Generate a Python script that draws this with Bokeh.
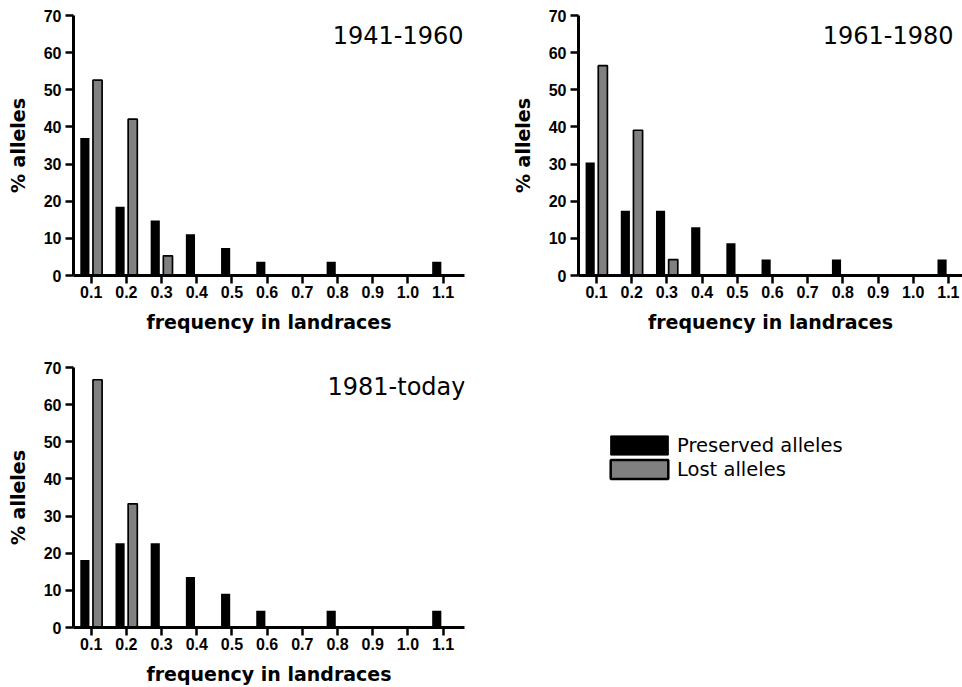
from bokeh.plotting import figure
from bokeh.models import Range1d, FixedTicker, Label, Legend, LegendItem, ColumnDataSource
from bokeh.layouts import gridplot
from bokeh.embed import file_html
from bokeh.resources import INLINE

# ---------------- data ----------------
freq = [0.1, 0.2, 0.3, 0.4, 0.5, 0.6, 0.7, 0.8, 0.9, 1.0, 1.1]
tick_labels = ["0.1", "0.2", "0.3", "0.4", "0.5", "0.6", "0.7", "0.8", "0.9", "1.0", "1.1"]
y_ticks = [0, 10, 20, 30, 40, 50, 60, 70]

periods = ["1941-1960", "1961-1980", "1981-today"]

preserved_1941_1960 = [37.0, 18.5, 14.8, 11.1, 7.4, 3.7, 0, 3.7, 0, 0, 3.7]
lost_1941_1960 = [52.6, 42.1, 5.3, 0, 0, 0, 0, 0, 0, 0, 0]

preserved_1961_1980 = [30.4, 17.4, 17.4, 13.0, 8.7, 4.3, 0, 4.3, 0, 0, 4.3]
lost_1961_1980 = [56.5, 39.1, 4.3, 0, 0, 0, 0, 0, 0, 0, 0]

preserved_1981_today = [18.2, 22.7, 22.7, 13.6, 9.1, 4.5, 0, 4.5, 0, 0, 4.5]
lost_1981_today = [66.7, 33.3, 0, 0, 0, 0, 0, 0, 0, 0, 0]

series_names = ["Preserved alleles", "Lost alleles"]
x_label = "frequency in landraces"
y_label = "% alleles"

# ---------------- style ----------------
PX_PER_UNIT = 351.9
BAR_W = 0.026
DODGE = 0.018
GREY = "#808080"


def make_panel(title, preserved, lost, width, height,
               b_left, b_right, b_top, b_bottom, first_tick_px, title_x):
    frame_w = width - b_left - b_right
    x0 = freq[0] - first_tick_px / PX_PER_UNIT
    x1 = x0 + frame_w / PX_PER_UNIT
    p = figure(width=width, height=height, output_backend="svg",
               toolbar_location=None, tools="",
               x_range=Range1d(x0, x1), y_range=Range1d(y_ticks[0], y_ticks[-1]),
               min_border_left=b_left, min_border_right=b_right,
               min_border_top=b_top, min_border_bottom=b_bottom)
    p.outline_line_color = None
    p.grid.visible = False
    p.background_fill_color = "white"
    p.border_fill_color = "white"

    px = [f - DODGE for f, v in zip(freq, preserved) if v > 0]
    pv = [v for v in preserved if v > 0]
    lx = [f + DODGE for f, v in zip(freq, lost) if v > 0]
    lv = [v for v in lost if v > 0]
    p.vbar(x=px, top=pv, bottom=0, width=BAR_W, fill_color="black", line_color=None)
    p.vbar(x=lx, top=lv, bottom=0, width=BAR_W, fill_color=GREY,
           line_color="black", line_width=1.7)

    for ax in (p.xaxis[0], p.yaxis[0]):
        ax.axis_line_width = 3
        ax.axis_line_color = "black"
        ax.major_tick_line_width = 2.5
        ax.major_tick_line_color = "black"
        ax.major_tick_out = 8
        ax.major_tick_in = 0
        ax.minor_tick_out = 0
        ax.minor_tick_in = 0
        ax.major_label_text_font = "Liberation Sans"
        ax.major_label_text_font_style = "bold"
        ax.major_label_text_font_size = "16px"
        ax.major_label_text_color = "black"
        ax.axis_label_text_font = "DejaVu Sans"
        ax.axis_label_text_font_style = "bold"
        ax.axis_label_text_font_size = "19px"
        ax.axis_label_text_color = "black"

    p.xaxis.ticker = FixedTicker(ticks=freq)
    p.xaxis.major_label_overrides = {f: t for f, t in zip(freq, tick_labels)}
    p.xaxis.major_label_standoff = 2
    p.xaxis.axis_label = x_label
    p.xaxis.axis_label_standoff = 10

    p.yaxis.ticker = FixedTicker(ticks=y_ticks)
    p.yaxis.major_label_standoff = 4
    p.yaxis.axis_label = y_label
    p.yaxis.axis_label_standoff = 12

    p.add_layout(Label(x=title_x, y=241, x_units="screen", y_units="screen",
                       text=title, text_align="right", text_baseline="alphabetic",
                       text_font="DejaVu Sans", text_font_size="24px",
                       text_color="black"))
    return p


p1 = make_panel(periods[0], preserved_1941_1960, lost_1941_1960,
                480, 340, 73, 16, 15, 65, 17.7, 390)
p2 = make_panel(periods[1], preserved_1961_1980, lost_1961_1980,
                482, 340, 98, 0, 15, 65, 18.0, 375)
p3 = make_panel(periods[2], preserved_1981_today, lost_1981_today,
                480, 347, 73, 16, 27, 60, 17.7, 392)

# legend panel (frame aligned with the 1961-1980 panel column and the 1981-today row)
p4 = figure(width=482, height=347, output_backend="svg", toolbar_location=None, tools="",
            x_range=Range1d(0, 1), y_range=Range1d(0, 1),
            x_axis_location=None, y_axis_location=None,
            min_border_left=98, min_border_right=0, min_border_top=27, min_border_bottom=60)
p4.outline_line_color = None
p4.grid.visible = False
r1 = p4.vbar(x="x", top="top", width=0.1, source=ColumnDataSource(dict(x=[5.0], top=[0.0])),
             fill_color="black", line_color="black", line_width=1)
r2 = p4.vbar(x="x", top="top", width=0.1, source=ColumnDataSource(dict(x=[5.0], top=[0.0])),
             fill_color=GREY, line_color="black", line_width=2.5)
legend = Legend(items=[LegendItem(label=series_names[0], renderers=[r1]),
                       LegendItem(label=series_names[1], renderers=[r2])],
                location=(25, 146), orientation="vertical",
                glyph_width=72, glyph_height=24, label_standoff=2,
                label_text_font="DejaVu Sans", label_text_font_size="19.5px",
                label_text_color="black", spacing=0, padding=0, margin=0,
                border_line_color=None, background_fill_alpha=0)
p4.add_layout(legend)

grid = gridplot([[p1, p2], [p3, p4]], toolbar_location=None)

open("out.html", "w").write(file_html(grid, INLINE))
